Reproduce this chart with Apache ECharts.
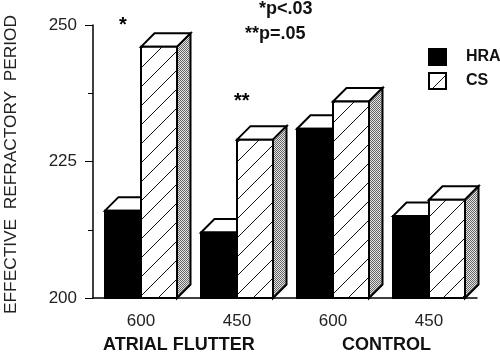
<!DOCTYPE html>
<html>
<head>
<meta charset="utf-8">
<style>
  html, body { margin: 0; padding: 0; background: #fff; }
  #main { width: 500px; height: 353px; }
</style>
<script src="https://cdn.jsdelivr.net/npm/echarts@6/dist/echarts.min.js"></script>
</head>
<body>
<div id="main"></div>
<script>
// Values
const categories = ["600 AF", "450 AF", "600 C", "450 C"];
const categoryLabels = ["600", "450", "600", "450"];
const hra = [216, 212, 231, 215];
const cs = [246, 229, 236, 218];

const FONT = "Liberation Sans";
const DEPTH = 13.5;
const BAR_W = 36;

// Diagonal hatch for the CS bars
function hatchPattern() {
  const s = 19;
  const c = document.createElement("canvas");
  c.width = s;
  c.height = s;
  const ctx = c.getContext("2d");
  ctx.fillStyle = "#fff";
  ctx.fillRect(0, 0, s, s);
  ctx.strokeStyle = "#111";
  ctx.lineWidth = 1;
  ctx.beginPath();
  ctx.moveTo(-2, s + 2);
  ctx.lineTo(s + 2, -2);
  ctx.moveTo(-2, 2);
  ctx.lineTo(2, -2);
  ctx.moveTo(s - 2, s + 2);
  ctx.lineTo(s + 2, s - 2);
  ctx.stroke();
  return { image: c, repeat: "repeat" };
}

// Fine stipple for the side faces
function stipplePattern() {
  const c = document.createElement("canvas");
  c.width = 2;
  c.height = 2;
  const ctx = c.getContext("2d");
  ctx.fillStyle = "#e4e4e4";
  ctx.fillRect(0, 0, 2, 2);
  ctx.fillStyle = "#666";
  ctx.fillRect(0, 0, 1, 1);
  ctx.fillRect(1, 1, 1, 1);
  return { image: c, repeat: "repeat" };
}

const hatch = hatchPattern();
const stipple = stipplePattern();

// Draws one 3D bar; side = -1 left of the category centre, +1 right of it
function bar3d(side, fill) {
  return function (params, api) {
    const idx = api.value(0);
    const top = api.coord([idx, api.value(1)]);
    const base = api.coord([idx, 200]);
    const x0 = side < 0 ? top[0] - BAR_W : top[0];
    const x1 = x0 + BAR_W;
    const line = { stroke: "#000", lineWidth: 2, lineJoin: "miter" };
    const children = [];
    children.push({
      type: "polygon",
      shape: { points: [[x0, top[1]], [x0 + DEPTH, top[1] - DEPTH], [x1 + DEPTH, top[1] - DEPTH], [x1, top[1]]] },
      style: Object.assign({ fill: "#fff" }, line)
    });
    if (side > 0) {
      children.push({
        type: "polygon",
        shape: { points: [[x1, top[1]], [x1 + DEPTH, top[1] - DEPTH], [x1 + DEPTH, base[1] - DEPTH], [x1, base[1]]] },
        style: Object.assign({ fill: stipple }, line)
      });
    }
    children.push({
      type: "rect",
      shape: { x: x0, y: top[1], width: BAR_W, height: base[1] - top[1] },
      style: Object.assign({ fill: fill }, line)
    });
    return { type: "group", children: children };
  };
}

const chart = echarts.init(document.getElementById("main"), null, { renderer: "canvas" });

chart.setOption({
  animation: false,
  backgroundColor: "#fff",
  textStyle: { fontFamily: FONT },
  grid: { left: 93, top: 25, width: 384, height: 273, containLabel: false, outerBoundsMode: "none" },
  legend: {
    orient: "vertical",
    left: 428,
    top: 48,
    padding: 0,
    itemWidth: 17,
    itemHeight: 16,
    itemGap: 6,
    icon: "rect",
    data: ["HRA", "CS"],
    textStyle: { fontFamily: FONT, fontSize: 16, fontWeight: "bold", color: "#111", padding: [0, 0, 0, 15] }
  },
  xAxis: {
    type: "category",
    data: categories,
    axisLine: { lineStyle: { color: "#000", width: 1.5 } },
    axisTick: { length: 4, alignWithLabel: false, lineStyle: { color: "#000" } },
    axisLabel: {
      margin: 15,
      fontFamily: FONT,
      fontSize: 17,
      color: "#222",
      formatter: (v, i) => categoryLabels[i]
    }
  },
  yAxis: {
    type: "value",
    min: 200,
    max: 250,
    interval: 25,
    name: "EFFECTIVE  REFRACTORY  PERIOD",
    nameLocation: "middle",
    nameGap: 73,
    nameTextStyle: { fontFamily: FONT, fontSize: 17.3, color: "#222", padding: [0, 6, 0, 0] },
    axisLine: { show: true, lineStyle: { color: "#000", width: 1.5 } },
    axisTick: { show: true, length: 8, lineStyle: { color: "#000" } },
    minorTick: { show: true, splitNumber: 2, length: 5, lineStyle: { color: "#000" } },
    splitLine: { show: false },
    axisLabel: { margin: 16, fontFamily: FONT, fontSize: 17, color: "#222" }
  },
  series: [
    {
      name: "HRA",
      type: "custom",
      renderItem: bar3d(-1, "#000"),
      encode: { x: 0, y: 1 },
      itemStyle: { color: "#000", borderColor: "#000", borderWidth: 1 },
      data: hra.map((v, i) => [i, v]),
      z: 2
    },
    {
      name: "CS",
      type: "custom",
      renderItem: bar3d(1, hatch),
      encode: { x: 0, y: 1 },
      itemStyle: { color: hatch, borderColor: "#000", borderWidth: 1.5 },
      data: cs.map((v, i) => [i, v]),
      z: 3
    }
  ],
  graphic: [
    { type: "text", left: 103, top: 336, style: { text: "ATRIAL FLUTTER", font: "bold 18px " + FONT, fill: "#111" } },
    { type: "text", left: 342, top: 336, style: { text: "CONTROL", font: "bold 18px " + FONT, fill: "#111" } },
    { type: "text", left: 119, top: 15, style: { text: "*", font: "bold 20px " + FONT, fill: "#000" } },
    { type: "text", left: 234, top: 91, style: { text: "**", font: "bold 20px " + FONT, fill: "#000" } },
    { type: "text", left: 259, top: 0, style: { text: "*p<.03", font: "bold 18px " + FONT, fill: "#111" } },
    { type: "text", left: 245, top: 25, style: { text: "**p=.05", font: "bold 18px " + FONT, fill: "#111" } }
  ]
});
</script>
</body>
</html>
